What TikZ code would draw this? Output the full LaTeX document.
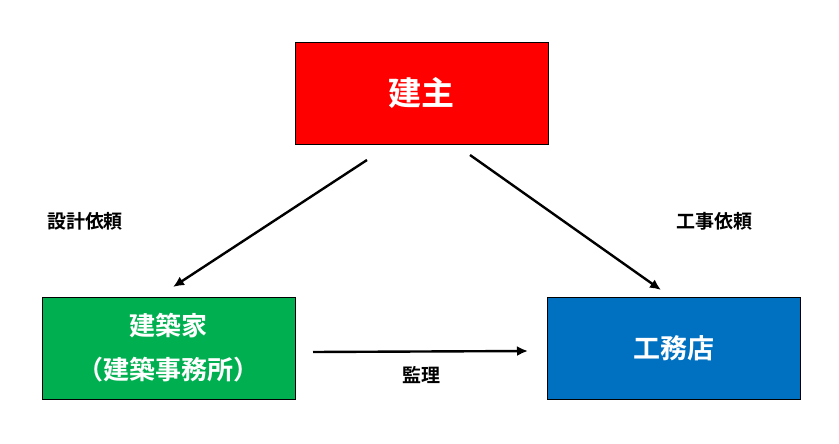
\documentclass[tikz,border=0pt]{standalone}
\usepackage{fontspec}
\newfontfamily\cjkb{Noto Sans CJK JP Bold}
\newfontfamily\cjkm{Noto Sans CJK JP Medium}
\usetikzlibrary{arrows.meta}
\definecolor{bxred}{HTML}{FF0000}
\definecolor{bxgreen}{HTML}{00B050}
\definecolor{bxblue}{HTML}{0070C0}
\tikzset{
  box/.style={draw=black, line width=0.8pt, minimum width=253pt, minimum height=102pt, inner sep=0pt, text=white, align=center},
  conn/.style={line width=2.4pt, -{Latex[length=11pt,width=10pt]}},
  lbl/.style={font=\cjkb\fontsize{19}{23}\selectfont, text=black, inner sep=0pt}
}
\begin{document}
\begin{tikzpicture}[x=1pt,y=-1pt]
\useasboundingbox (0,0) rectangle (839,444);
\fill[white] (0,0) rectangle (839,444);
\node[box, fill=bxred, font=\cjkb\fontsize{33}{40}\selectfont] (owner) at (421.5,93) {建主};
\node[box, fill=bxgreen, font=\cjkb\fontsize{26}{44}\selectfont] (arch) at (168.5,348) {建築家\\（建築事務所）};
\node[box, fill=bxblue, font=\cjkb\fontsize{27}{32}\selectfont] (cont) at (674,348) {工務店};
\coordinate (a1s) at (367,160);
\coordinate (a1e) at (173,287);
\coordinate (a2s) at (470,155);
\coordinate (a2e) at (661,290);
\coordinate (a3s) at (313,352);
\coordinate (a3e) at (528,351);
\draw[conn] (a1s) -- (a1e);
\draw[conn] (a2s) -- (a2e);
\draw[conn] (a3s) -- (a3e);
\node[lbl] (l1) at (85,221) {設計依頼};
\node[lbl] (l2) at (714,221) {工事依頼};
\node[lbl] (l3) at (421,375) {監理};
\end{tikzpicture}
\end{document}
